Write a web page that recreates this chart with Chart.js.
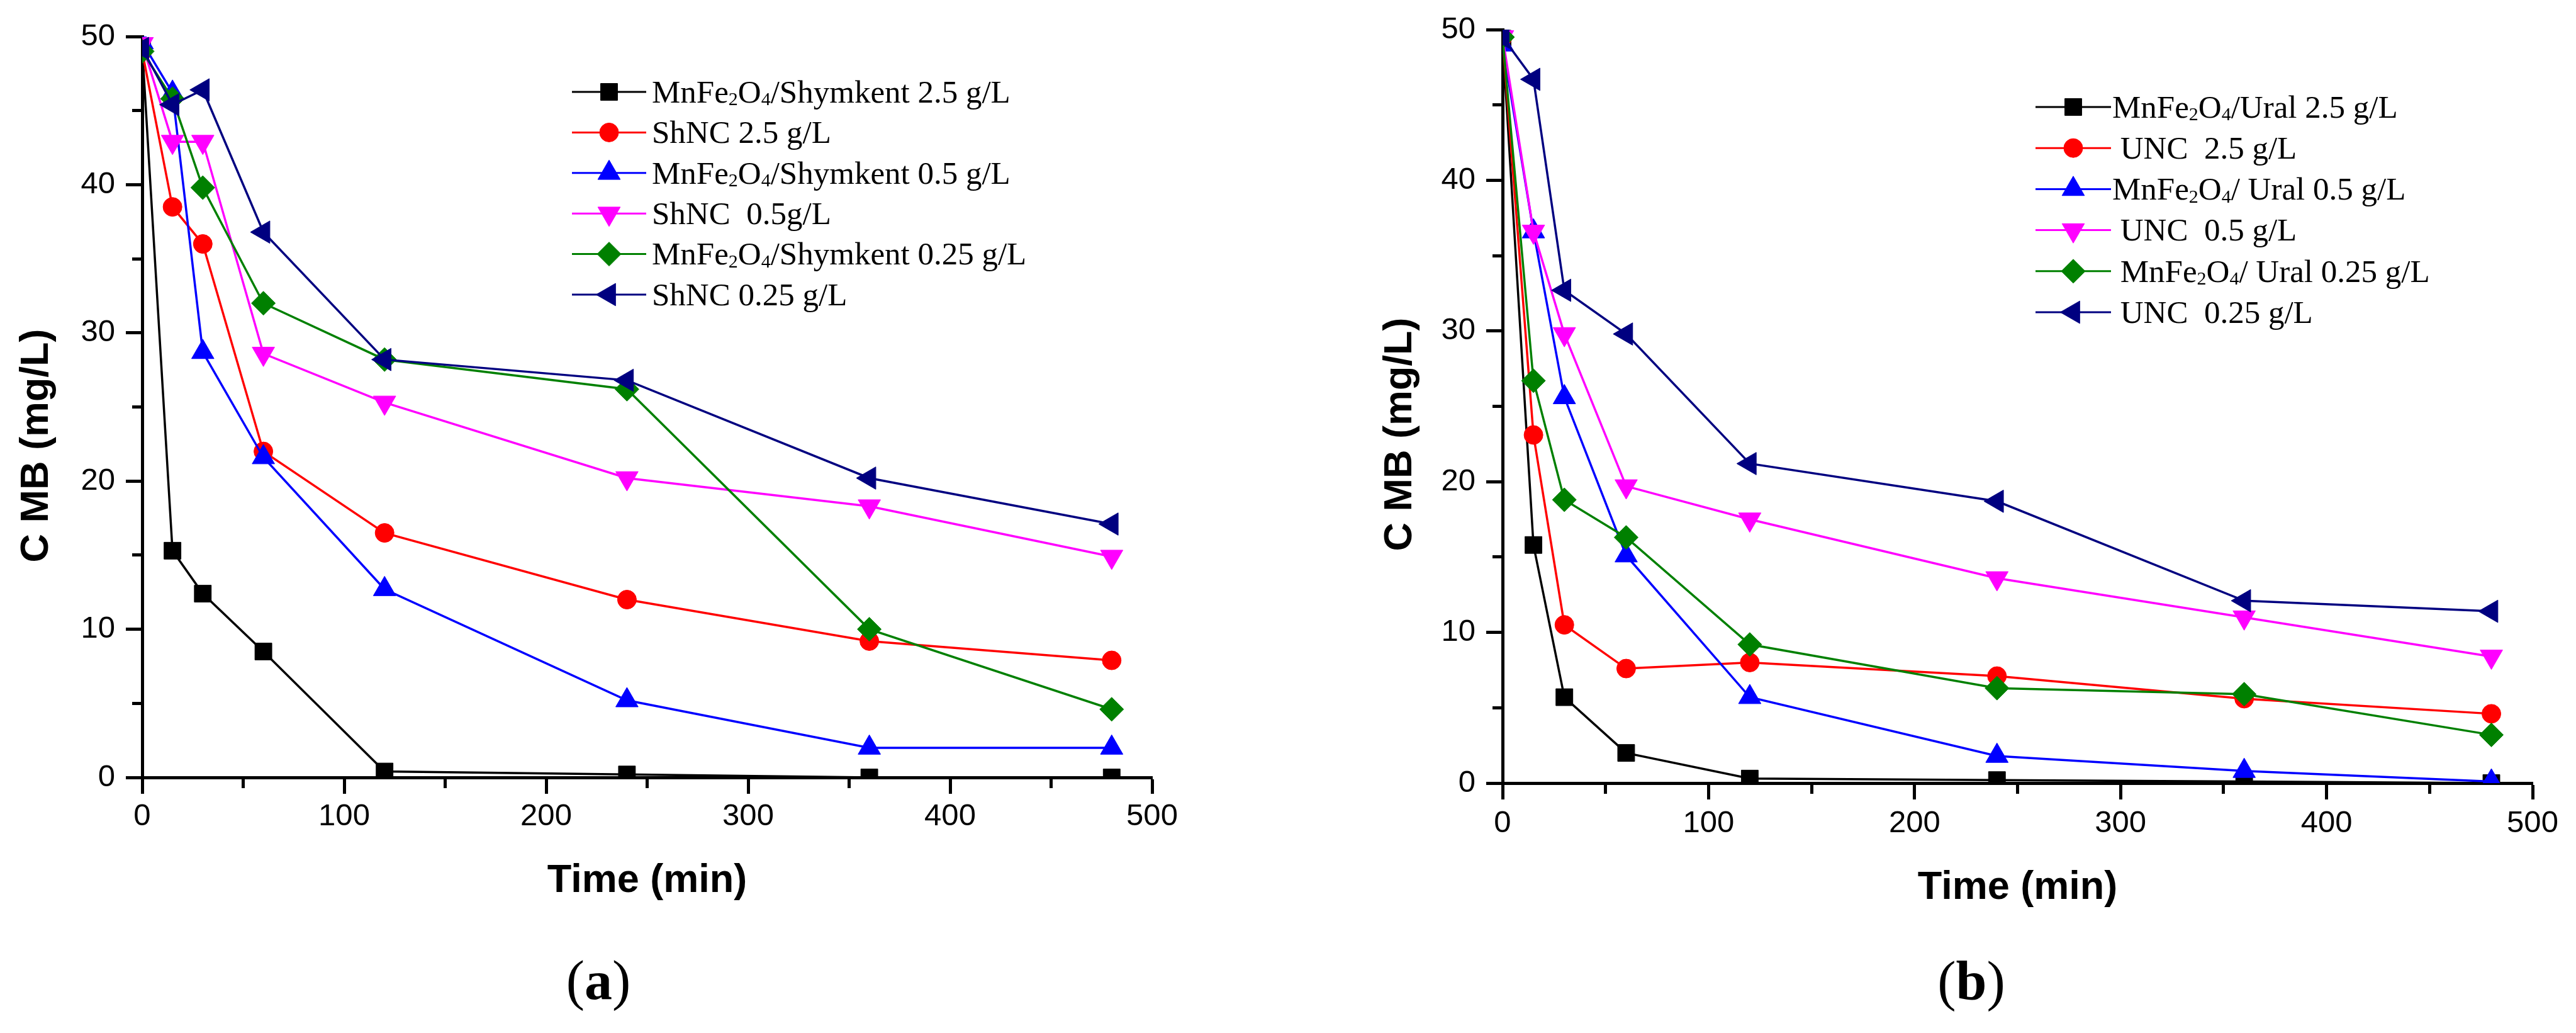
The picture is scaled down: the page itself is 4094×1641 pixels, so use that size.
<!DOCTYPE html>
<html>
<head>
<meta charset="utf-8">
<title>MB concentration vs time</title>
<script src="https://cdn.jsdelivr.net/npm/chart.js@4.4.1/dist/chart.umd.min.js"></script>
<style>
  html, body { margin: 0; padding: 0; background: #ffffff; }
  body { width: 4094px; height: 1641px; position: relative; overflow: hidden; }
  canvas { position: absolute; top: 0; }
  #panelA { left: 0; }
  #panelB { left: 2047px; }
</style>
</head>
<body>
<canvas id="panelA" width="2047" height="1641"></canvas>
<canvas id="panelB" width="2047" height="1641"></canvas>
<script>
// ─── Data ────────────────────────────────────────────────────────────────────
const TIME_MIN = [0, 15, 30, 60, 120, 240, 360, 480];

// (a) Shymkent
const A_LABELS = [
  "MnFe₂O₄/Shymkent 2.5 g/L",
  "ShNC 2.5 g/L",
  "MnFe₂O₄/Shymkent 0.5 g/L",
  "ShNC  0.5g/L",
  "MnFe₂O₄/Shymkent 0.25 g/L",
  "ShNC 0.25 g/L",
];
const A_MNFE_25  = [49.2, 15.3, 12.4, 8.5, 0.4, 0.2, 0.0, 0.0];
const A_SHNC_25  = [49.0, 38.5, 36.0, 22.0, 16.5, 12.0, 9.2, 7.9];
const A_MNFE_05  = [49.6, 46.2, 28.7, 21.6, 12.7, 5.2, 2.0, 2.0];
const A_SHNC_05  = [49.5, 42.9, 42.9, 28.6, 25.3, 20.2, 18.3, 14.9];
const A_MNFE_025 = [49.0, 45.8, 39.8, 32.0, 28.2, 26.2, 10.0, 4.6];
const A_SHNC_025 = [49.2, 45.4, 46.4, 36.8, 28.2, 26.8, 20.2, 17.1];

// (b) Ural
const B_LABELS = [
  "MnFe₂O₄/Ural 2.5 g/L",
  " UNC  2.5 g/L",
  "MnFe₂O₄/ Ural 0.5 g/L",
  " UNC  0.5 g/L",
  " MnFe₂O₄/ Ural 0.25 g/L",
  " UNC  0.25 g/L",
];
const B_MNFE_25  = [49.4, 15.8, 5.7, 2.0, 0.3, 0.2, 0.1, 0.0];
const B_UNC_25   = [49.5, 23.1, 10.5, 7.6, 8.0, 7.1, 5.6, 4.6];
const B_MNFE_05  = [49.0, 36.6, 25.6, 15.1, 5.7, 1.8, 0.8, 0.1];
const B_UNC_05   = [49.5, 36.6, 29.8, 19.7, 17.5, 13.6, 11.0, 8.4];
const B_MNFE_025 = [49.5, 26.7, 18.8, 16.3, 9.2, 6.3, 5.9, 3.2];
const B_UNC_025  = [49.5, 46.7, 32.7, 29.8, 21.2, 18.7, 12.1, 11.4];

const X_MAX = 500, X_STEP = 50, X_MAJOR = 100;
const Y_MAX = 50, Y_STEP = 5, Y_MAJOR = 10;

// ─── Styles ──────────────────────────────────────────────────────────────────
const SANS = "'Liberation Sans', Arial, sans-serif";
const SERIF = "'Liberation Serif', 'Times New Roman', serif";

// Origin-like series styles, same order in both panels
const SERIES_STYLE = [
  { color: "#000000", shape: "rect",     radius: 19,   rotation: 0 },
  { color: "#ff0000", shape: "circle",   radius: 15,   rotation: 0 },
  { color: "#0000ff", shape: "triangle", radius: 20.6, rotation: 0 },
  { color: "#ff00ff", shape: "triangle", radius: 20.6, rotation: 180 },
  { color: "#008000", shape: "rectRot",  radius: 19,   rotation: 0 },
  { color: "#000080", shape: "triangle", radius: 20.6, rotation: 270 },
];

const W = 2047, H = 1641;

// ─── Texte avec indices (₂ ₄) ────────────────────────────────────────────────
const SUBS = { "₂": "2", "₄": "4" };

function drawRichText(ctx, text, x, y, size) {
  // découpe en segments normal / indice
  const runs = [];
  for (const ch of text) {
    const sub = SUBS[ch] !== undefined;
    const last = runs[runs.length - 1];
    const c = sub ? SUBS[ch] : ch;
    if (last && last.sub === sub) last.text += c;
    else runs.push({ sub, text: c });
  }
  let cx = x;
  ctx.textAlign = "left";
  ctx.textBaseline = "alphabetic";
  runs.forEach(r => {
    const s = r.sub ? Math.round(size * 0.58) : size;
    ctx.font = `${s}px ${SERIF}`;
    ctx.fillText(r.text, cx, r.sub ? y + size * 0.09 : y);
    cx += ctx.measureText(r.text).width;
  });
}

// ─── Plugin: titre Y, légende, étiquette de panneau ──────────────────────────
const panelDecor = {
  id: "panelDecor",
  afterDraw(chart, args, opts) {
    const ctx = chart.ctx;

    // y title, rotated
    ctx.save();
    ctx.fillStyle = "#000";
    ctx.font = `bold ${opts.yTitle.size}px ${SANS}`;
    ctx.textAlign = "center";
    ctx.textBaseline = "alphabetic";
    ctx.translate(opts.yTitle.x, opts.yTitle.y);
    ctx.rotate(-Math.PI / 2);
    ctx.fillText(opts.yTitle.text, 0, 0);
    ctx.restore();

    // legend
    const lg = opts.legend;
    chart.data.datasets.forEach((ds, i) => {
      const y = lg.y + i * lg.step;
      ctx.save();
      ctx.strokeStyle = ds.borderColor;
      ctx.lineWidth = 3;
      ctx.beginPath();
      ctx.moveTo(lg.x, y);
      ctx.lineTo(lg.x + lg.len, y);
      ctx.stroke();
      ctx.fillStyle = ds.pointBackgroundColor;
      ctx.strokeStyle = ds.pointBorderColor;
      ctx.lineWidth = ds.pointBorderWidth;
      Chart.helpers.drawPoint(ctx, {
        pointStyle: ds.pointStyle,
        rotation: ds.pointRotation,
        radius: ds.pointRadius,
        borderWidth: ds.pointBorderWidth,
      }, lg.x + lg.len / 2, y);
      ctx.fillStyle = "#000";
      drawRichText(ctx, ds.label, lg.textX, y + lg.size * 0.331, lg.size);
      ctx.restore();
    });

    // panel tag "(a)" / "(b)"
    const tg = opts.tag;
    ctx.save();
    ctx.fillStyle = "#000";
    ctx.textBaseline = "alphabetic";
    ctx.textAlign = "left";
    const reg = `${tg.size}px ${SERIF}`, bold = `bold ${tg.size}px ${SERIF}`;
    ctx.font = reg;
    const wp = ctx.measureText("(").width, wq = ctx.measureText(")").width;
    ctx.font = bold;
    const wl = ctx.measureText(tg.letter).width;
    let x = tg.x - (wp + wl + wq) / 2;
    ctx.font = reg;  ctx.fillText("(", x, tg.y); x += wp;
    ctx.font = bold; ctx.fillText(tg.letter, x, tg.y); x += wl;
    ctx.font = reg;  ctx.fillText(")", x, tg.y);
    ctx.restore();
  },
};

// ─── Construction d'un panneau ───────────────────────────────────────────────
function buildPanel(canvasId, labels, series, geo) {
  const datasets = series.map((values, i) => {
    const st = SERIES_STYLE[i];
    return {
      label: labels[i],
      data: TIME_MIN.map((t, k) => ({ x: t, y: values[k] })),
      borderColor: st.color,
      backgroundColor: st.color,
      borderWidth: 3.5,
      tension: 0,
      pointStyle: st.shape,
      pointRadius: st.radius,
      pointRotation: st.rotation,
      pointBackgroundColor: st.color,
      pointBorderColor: st.color,
      pointBorderWidth: 1,
      order: series.length - i,   // later series on top, like Origin
    };
  });

  const axisBorder = { display: true, color: "#000", width: 5 };

  return new Chart(document.getElementById(canvasId), {
    type: "line",
    data: { datasets },
    plugins: [panelDecor],
    options: {
      responsive: false,
      devicePixelRatio: 1,
      animation: false,
      layout: { padding: { left: 0, top: geo.top, right: W - geo.right, bottom: 0 } },
      plugins: {
        legend: { display: false },
        tooltip: { enabled: false },
        panelDecor: {
          yTitle: { text: "C MB (mg/L)", size: 63, x: geo.yTitleX, y: geo.yTitleY },
          legend: geo.legend,
          tag: geo.tag,
        },
      },
      scales: {
        x: {
          type: "linear",
          min: 0,
          max: X_MAX,
          afterFit: s => { s.height = H - geo.bottom; },
          border: axisBorder,
          grid: {
            drawOnChartArea: false,
            tickLength: 26,
            tickWidth: 5,
            tickColor: "#000",
            tickBorderDash: c => (c.tick && c.tick.value % X_MAJOR !== 0 ? [14, 100] : []),
          },
          ticks: {
            stepSize: X_STEP,
            autoSkip: false,
            maxRotation: 0,
            padding: geo.xTickPad,
            color: "#000",
            font: { family: SANS, size: 49 },
            callback: v => (v % X_MAJOR === 0 ? String(v) : ""),
          },
          title: {
            display: true,
            text: "Time (min)",
            color: "#000",
            font: { family: SANS, size: 63, weight: "bold", lineHeight: 1.2 },
            padding: { top: 0, bottom: geo.xTitlePad },
          },
        },
        y: {
          type: "linear",
          min: 0,
          max: Y_MAX,
          afterFit: s => { s.width = geo.left; },
          border: axisBorder,
          grid: {
            drawOnChartArea: false,
            tickLength: 26,
            tickWidth: 5,
            tickColor: "#000",
            tickBorderDash: c => (c.tick && c.tick.value % Y_MAJOR !== 0 ? [0, 10, 20, 100] : []),
          },
          ticks: {
            stepSize: Y_STEP,
            autoSkip: false,
            padding: 17,
            color: "#000",
            font: { family: SANS, size: 49 },
            callback: v => (v % Y_MAJOR === 0 ? String(v) : ""),
          },
          title: { display: false },
        },
      },
    },
  });
}

buildPanel("panelA", A_LABELS,
  [A_MNFE_25, A_SHNC_25, A_MNFE_05, A_SHNC_05, A_MNFE_025, A_SHNC_025],
  {
    left: 226, right: 1831, top: 58, bottom: 1235,
    xTickPad: 7, xTitlePad: 204,
    yTitleX: 76, yTitleY: 708,
    legend: { x: 909, len: 118, textX: 1036, y: 146, step: 64.4, size: 51 },
    tag: { letter: "a", x: 951, y: 1587, size: 88 },
  });

buildPanel("panelB", B_LABELS,
  [B_MNFE_25, B_UNC_25, B_MNFE_05, B_UNC_05, B_MNFE_025, B_UNC_025],
  {
    left: 341, right: 1978, top: 47, bottom: 1244,
    xTickPad: 9, xTitlePad: 193,
    yTitleX: 196, yTitleY: 690,
    legend: { x: 1188, len: 120, textX: 1310, y: 170, step: 65.2, size: 51 },
    tag: { letter: "b", x: 1086, y: 1588, size: 88 },
  });
</script>
</body>
</html>
